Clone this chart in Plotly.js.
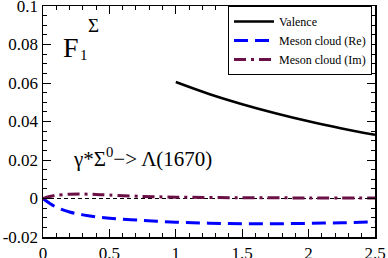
<!DOCTYPE html>
<html>
<head>
<meta charset="utf-8">
<script src="https://cdn.plot.ly/plotly-3.0.1.min.js"></script>
<style>html,body{margin:0;padding:0;background:#fff;}#chart{width:388px;height:258px;}</style>
</head>
<body>
<div id="chart"></div>
<script>
// Valence
var valX = [1.0, 1.25, 1.5, 1.75, 2.0, 2.25, 2.5];
var valY = [0.0605, 0.0543, 0.0490, 0.0443, 0.0401, 0.0364, 0.0331];
// Meson cloud (Re)
var reX = [0, 0.05, 0.1, 0.2, 0.3, 0.4, 0.5, 0.75, 1.0, 1.25, 1.5, 1.75, 2.0, 2.25, 2.5];
var reY = [0, -0.0025, -0.0045, -0.0070, -0.0085, -0.0095, -0.0102, -0.0114, -0.0123, -0.0128, -0.0131, -0.0131, -0.0129, -0.0126, -0.0121];
// Meson cloud (Im)
var imX = [0, 0.05, 0.1, 0.2, 0.3, 0.4, 0.5, 0.75, 1.0, 1.5, 2.0, 2.5];
var imY = [0, 0.0010, 0.0017, 0.0022, 0.0023, 0.0021, 0.0018, 0.0011, 0.0007, 0.0004, 0.0003, 0.0002];
// zero reference line
var zeroX = [0, 2.5];
var zeroY = [0, 0];
var xTicks = [0, 0.5, 1, 1.5, 2, 2.5];
var xTickText = ['0', '0.5', '1', '1.5', '2', '2.5'];
var yTicks = [-0.02, 0, 0.02, 0.04, 0.06, 0.08, 0.1];
var yTickText = ['-0.02', '0', '0.02', '0.04', '0.06', '0.08', '0.1'];

var font = 'Liberation Serif';
var traces = [
  {x: zeroX, y: zeroY, mode: 'lines', line: {color: '#000', width: 1, dash: '4px,3px'}, showlegend: false, hoverinfo: 'skip'},
  {x: valX, y: valY, mode: 'lines', name: 'Valence', line: {color: '#000', width: 2.5, shape: 'spline'}},
  {x: reX, y: reY, mode: 'lines', name: 'Meson cloud (Re)', line: {color: '#0000ff', width: 3, dash: '14px,7px', shape: 'spline'}},
  {x: imX, y: imY, mode: 'lines', name: 'Meson cloud (Im)', line: {color: '#6b0f47', width: 3, dash: '12px,5px,3px,5px', shape: 'spline'}}
];
function axis(extra) {
  var a = {
    showgrid: false, zeroline: false, showline: true, linecolor: '#000', linewidth: 1.5,
    mirror: 'ticks', ticks: 'inside', ticklen: 8, tickwidth: 1, tickcolor: '#000',
    tickfont: {family: font, size: 17, color: '#000'}, ticklabeloverflow: 'allow',
    tickmode: 'array'
  };
  for (var k in extra) a[k] = extra[k];
  return a;
}
var layout = {
  width: 388, height: 258,
  font: {family: font, size: 17, color: '#000'},
  margin: {l: 43, r: 13, t: 6, b: 21},
  paper_bgcolor: '#fff', plot_bgcolor: '#fff',
  showlegend: true,
  legend: {x: 0.991, y: 1.0, xanchor: 'right', yanchor: 'top', bgcolor: '#fff',
    bordercolor: '#000', borderwidth: 1, font: {family: font, size: 12, color: '#000'},
    tracegroupgap: 0, itemwidth: 40},
  xaxis: axis({range: [0, 2.5], tickvals: xTicks, ticktext: xTickText,
    minor: {ticks: 'inside', ticklen: 4, tickwidth: 1, tickcolor: '#000', dtick: 0.1}}),
  yaxis: axis({range: [-0.02, 0.1], tickvals: yTicks, ticktext: yTickText,
    minor: {ticks: 'inside', ticklen: 4, tickwidth: 1, tickcolor: '#000', dtick: 0.005}}),
  annotations: [
    {xref: 'paper', yref: 'paper', x: 0.055, y: 0.82, xanchor: 'left', yanchor: 'middle', showarrow: false,
     text: 'F', font: {family: font, size: 28, color: '#000'}},
    {xref: 'paper', yref: 'paper', x: 0.105, y: 0.79, xanchor: 'left', yanchor: 'middle', showarrow: false,
     text: '1', font: {family: font, size: 15, color: '#000'}},
    {xref: 'paper', yref: 'paper', x: 0.13, y: 0.915, xanchor: 'left', yanchor: 'middle', showarrow: false,
     text: 'Σ', font: {family: font, size: 19, color: '#000'}},
    {xref: 'paper', yref: 'paper', x: 0.085, y: 0.345, xanchor: 'left', yanchor: 'middle', showarrow: false,
     text: 'γ*Σ<sup>0</sup>−> Λ(1670)', font: {family: font, size: 21, color: '#000'}}
  ]
};
Plotly.newPlot('chart', traces, layout, {displayModeBar: false, staticPlot: true});
</script>
</body>
</html>
